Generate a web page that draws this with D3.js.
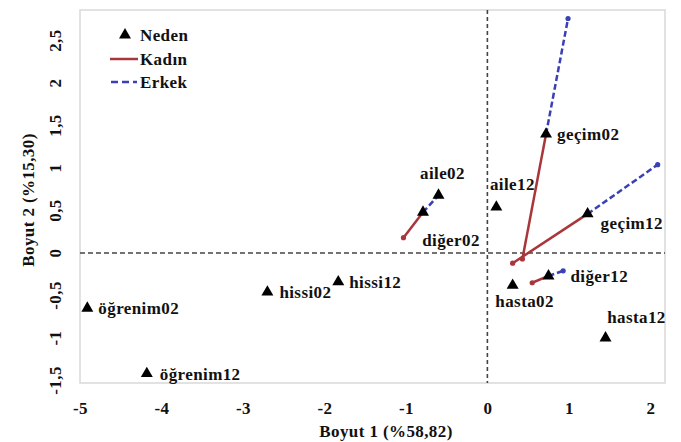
<!DOCTYPE html>
<html>
<head>
<meta charset="utf-8">
<script src="https://cdn.jsdelivr.net/npm/d3@7"></script>
<style>
  body { margin: 0; background: #fff; }
  svg text { font-family: "Liberation Serif", "Times New Roman", serif; font-weight: bold; fill: #111; letter-spacing: 0.4px; }
</style>
</head>
<body>
<div id="chart"></div>
<script>
// Neden points
const nedenLabels = ["öğrenim02", "öğrenim12", "hissi02", "hissi12", "aile02", "diğer02",
                     "aile12", "geçim02", "geçim12", "hasta02", "diğer12", "hasta12"];
const nedenX = [-4.91, -4.18, -2.70, -1.83, -0.60, -0.79, 0.11, 0.72, 1.23, 0.31, 0.75, 1.45];
const nedenY = [-0.65, -1.42, -0.46, -0.34, 0.68, 0.48, 0.54, 1.40, 0.46, -0.38, -0.27, -1.00];

// Kadın segments (start -> end)
const kadinX1 = [-1.03, 0.43, 0.31, 0.55];
const kadinY1 = [0.18, -0.07, -0.12, -0.35];
const kadinX2 = [-0.79, 0.72, 1.23, 0.75];
const kadinY2 = [0.48, 1.40, 0.46, -0.27];

// Erkek segments (start -> end)
const erkekX1 = [-0.79, 0.72, 1.23, 0.75];
const erkekY1 = [0.48, 1.40, 0.46, -0.27];
const erkekX2 = [-0.60, 0.99, 2.09, 0.93];
const erkekY2 = [0.68, 2.76, 1.04, -0.21];

const xTicks = [-5, -4, -3, -2, -1, 0, 1, 2];
const yTicks = [-1.5, -1, -0.5, 0, 0.5, 1, 1.5, 2, 2.5];

// label placement (offset from triangle, anchor)
const labelPos = [
  [11, 6, "start"], [13, 6, "start"], [12, 6, "start"], [11, 6, "start"],
  [4, -16, "middle"], [28, 34, "middle"], [16, -17, "middle"], [11, 6, "start"],
  [13, 15, "start"], [12, 22, "middle"], [22, 6, "start"], [31, -15, "middle"]
];

const W = 681, H = 442;
const mLeft = 80, mRight = 665, mTop = 10, mBottom = 383;
const fs = 17;

const svg = d3.select("#chart").append("svg")
    .attr("width", W).attr("height", H);

const x = d3.scaleLinear().domain([-5, 2.18]).range([mLeft, mRight]);
const y = d3.scaleLinear().domain([-1.53, 2.86]).range([mBottom, mTop]);

const kadinColor = "#a8363a";
const erkekColor = "#3a40b5";

// plot frame
svg.append("rect")
    .attr("x", mLeft).attr("y", mTop)
    .attr("width", mRight - mLeft).attr("height", mBottom - mTop)
    .attr("fill", "none").attr("stroke", "#d9d9d9").attr("stroke-width", 1.5);

// zero lines
svg.append("line")
    .attr("x1", mLeft).attr("x2", mRight).attr("y1", y(0)).attr("y2", y(0))
    .attr("stroke", "#444").attr("stroke-width", 1.6).attr("stroke-dasharray", "5,3");
svg.append("line")
    .attr("x1", x(0)).attr("x2", x(0)).attr("y1", mTop).attr("y2", mBottom)
    .attr("stroke", "#444").attr("stroke-width", 1.6).attr("stroke-dasharray", "4,3");

// X axis
const xAxis = svg.append("g")
    .attr("transform", `translate(0,${mBottom + 16})`)
    .call(d3.axisBottom(x).tickValues(xTicks).tickSize(0).tickFormat(d => String(d)));
xAxis.select(".domain").remove();
xAxis.attr("font-family", null).attr("font-size", null);
xAxis.selectAll("text").attr("font-size", fs).attr("fill", "#111");

// Y axis (labels rotated)
svg.append("g").selectAll("text")
    .data(yTicks).enter().append("text")
    .attr("transform", d => `translate(55,${y(d)}) rotate(-90)`)
    .attr("text-anchor", "middle")
    .attr("dy", "0.35em")
    .attr("font-size", fs)
    .text(d => String(d).replace(".", ","));

// axis titles
svg.append("text")
    .attr("text-anchor", "middle")
    .attr("transform", "translate(386,437)")
    .attr("font-size", fs)
    .text("Boyut 1 (%58,82)");
svg.append("text")
    .attr("text-anchor", "middle")
    .attr("transform", "translate(34,200) rotate(-90)")
    .attr("font-size", fs)
    .text("Boyut 2 (%15,30)");

// Kadın lines
const kadin = kadinX1.map((d, i) => ({ x1: d, y1: kadinY1[i], x2: kadinX2[i], y2: kadinY2[i] }));
svg.append("g").selectAll("line").data(kadin).enter().append("line")
    .attr("x1", d => x(d.x1)).attr("y1", d => y(d.y1))
    .attr("x2", d => x(d.x2)).attr("y2", d => y(d.y2))
    .attr("stroke", kadinColor).attr("stroke-width", 2.5);
svg.append("g").selectAll("circle").data(kadin).enter().append("circle")
    .attr("cx", d => x(d.x1)).attr("cy", d => y(d.y1)).attr("r", 2.6)
    .attr("fill", kadinColor);

// Erkek lines
const erkek = erkekX1.map((d, i) => ({ x1: d, y1: erkekY1[i], x2: erkekX2[i], y2: erkekY2[i] }));
svg.append("g").selectAll("line").data(erkek).enter().append("line")
    .attr("x1", d => x(d.x1)).attr("y1", d => y(d.y1))
    .attr("x2", d => x(d.x2)).attr("y2", d => y(d.y2))
    .attr("stroke", erkekColor).attr("stroke-width", 2.5).attr("stroke-dasharray", "6,3");
svg.append("g").selectAll("circle").data(erkek).enter().append("circle")
    .attr("cx", d => x(d.x2)).attr("cy", d => y(d.y2)).attr("r", 2.6)
    .attr("fill", erkekColor);

// Neden triangles + labels
const neden = nedenLabels.map((d, i) => ({ label: d, x: nedenX[i], y: nedenY[i], pos: labelPos[i] }));
const tri = d3.symbol().type(d3.symbolTriangle).size(62);
svg.append("g").selectAll("path").data(neden).enter().append("path")
    .attr("d", tri)
    .attr("transform", d => `translate(${x(d.x)},${y(d.y)})`)
    .attr("fill", "#000");
svg.append("g").selectAll("text").data(neden).enter().append("text")
    .attr("x", d => x(d.x) + d.pos[0])
    .attr("y", d => y(d.y) + d.pos[1])
    .attr("text-anchor", d => d.pos[2])
    .attr("font-size", fs)
    .text(d => d.label);

// legend
const lg = svg.append("g");
lg.append("path").attr("d", tri).attr("transform", "translate(125,35)").attr("fill", "#000");
lg.append("text").attr("x", 140).attr("y", 41).attr("font-size", fs).text("Neden");
lg.append("line").attr("x1", 110).attr("x2", 138).attr("y1", 59).attr("y2", 59)
    .attr("stroke", kadinColor).attr("stroke-width", 2.5);
lg.append("text").attr("x", 140).attr("y", 65).attr("font-size", fs).text("Kadın");
lg.append("line").attr("x1", 111).attr("x2", 137).attr("y1", 82).attr("y2", 82)
    .attr("stroke", erkekColor).attr("stroke-width", 2.5).attr("stroke-dasharray", "7,4");
lg.append("text").attr("x", 140).attr("y", 88).attr("font-size", fs).text("Erkek");
</script>
</body>
</html>
